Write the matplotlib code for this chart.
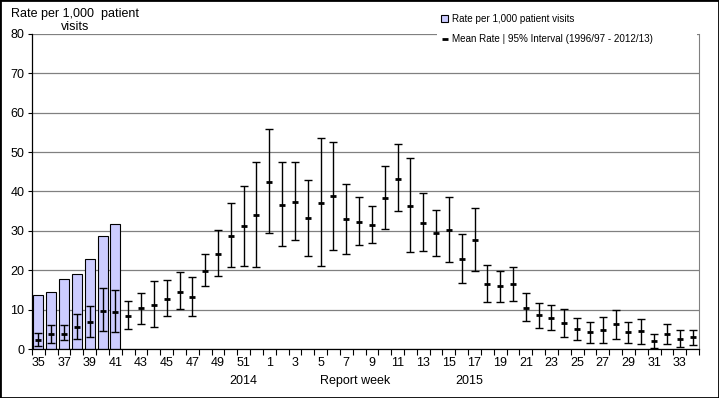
import numpy as np
import matplotlib
matplotlib.use("Agg")
import matplotlib.pyplot as plt
from matplotlib.patches import Patch, Rectangle
from matplotlib.lines import Line2D
from matplotlib.transforms import blended_transform_factory

plt.rcParams['font.family'] = ['Liberation Sans', 'DejaVu Sans']

weeks = list(range(35, 53)) + list(range(1, 35))

rate = [13.7, 14.4, 17.7, 19.0, 22.8, 28.6, 31.7]  # weeks 35-41

mean_rate = [2.3, 3.9, 3.8, 5.7, 6.9, 9.7, 9.5, 8.5, 10.3, 11.3, 12.8, 14.6, 13.1,
             19.9, 24.2, 28.8, 31.2, 34.0,
             42.4, 36.6, 37.4, 33.3, 37.1, 38.8, 33.0, 32.3, 31.5, 38.4, 43.2, 36.3,
             32.0, 29.5, 30.2, 22.9, 27.7, 16.5, 16.0, 16.5, 10.3, 8.6, 7.8, 6.6,
             5.0, 4.3, 4.8, 6.3, 4.3, 4.5, 2.0, 3.8, 2.5, 3.0]

low_95 = [0.8, 1.6, 2.3, 2.5, 3.1, 4.5, 4.2, 5.0, 6.3, 5.5, 8.3, 10.1, 8.3,
          15.9, 18.5, 20.8, 21.2, 20.7,
          29.4, 26.1, 27.8, 23.7, 21.0, 25.2, 24.2, 26.3, 26.8, 30.6, 35.0, 24.7,
          25.0, 23.5, 22.2, 16.8, 19.9, 12.0, 12.0, 12.3, 7.0, 5.4, 4.7, 3.1,
          2.3, 1.6, 1.6, 2.6, 1.6, 1.3, 0.3, 1.3, 0.6, 1.1]

high_95 = [4.0, 6.0, 6.0, 8.8, 10.8, 15.4, 14.9, 12.1, 14.2, 17.2, 17.5, 19.5, 18.2,
           24.1, 30.2, 37.0, 41.3, 47.6,
           55.8, 47.6, 47.4, 43.0, 53.5, 52.5, 41.8, 38.5, 36.2, 46.4, 52.0, 48.4,
           39.5, 35.4, 38.7, 29.1, 35.9, 21.4, 19.9, 20.9, 14.3, 11.8, 11.2, 10.2,
           7.9, 6.9, 8.2, 9.9, 6.9, 7.7, 3.9, 6.4, 4.9, 4.9]

yticks = [0, 10, 20, 30, 40, 50, 60, 70, 80]

W, H = 719, 398
fig = plt.figure(figsize=(W / 100, H / 100), dpi=100)
ax = fig.add_axes([32 / W, (H - 349) / H, (699 - 32) / W, (349 - 34) / H])

x = np.arange(len(weeks))
mean_arr = np.array(mean_rate)
err = np.vstack([mean_arr - np.array(low_95), np.array(high_95) - mean_arr])

ax.bar(x[:len(rate)], rate, width=0.78, color='#ccccff', edgecolor='black',
       linewidth=0.8, zorder=2)
ax.errorbar(x, mean_arr, yerr=err, fmt='none', ecolor='black', elinewidth=1.0,
            capsize=2.9, capthick=1.0, zorder=3)
ax.plot(x, mean_arr, linestyle='none', marker='_', markersize=4.5,
        markeredgewidth=2.0, color='black', zorder=4)

ax.set_xlim(-0.5, len(weeks) - 0.5)
ax.set_ylim(0, 80)
ax.set_yticks(yticks)
ax.yaxis.grid(True, color='#808080', linewidth=0.9, zorder=0)
ax.set_axisbelow(True)

# x ticks: marks at category boundaries, labels at every other week
ax.set_xticks(np.arange(-0.5, len(weeks), 1.0))
ax.set_xticklabels([])
lab_idx = x[::2]
ax.set_xticks(lab_idx, minor=True)
ax.set_xticklabels([str(weeks[i]) for i in lab_idx], minor=True)
ax.tick_params(axis='x', which='major', length=4, width=0.8, direction='out')
ax.tick_params(axis='x', which='minor', length=0, pad=6, labelsize=9)
ax.tick_params(axis='y', length=3, width=0.8, direction='out', pad=2.5, labelsize=9)

ax.spines['top'].set_visible(False)
ax.spines['right'].set_color('#808080')
ax.spines['left'].set_linewidth(0.9)
ax.spines['bottom'].set_linewidth(0.9)

tr = blended_transform_factory(ax.transData, ax.transAxes)
yrow = (349 - 381) / (349 - 34)
ax.text(15.95, yrow, '2014', transform=tr, ha='center', va='center', fontsize=9)
ax.text(24.7, yrow, 'Report week', transform=tr, ha='center', va='center', fontsize=9)
ax.text(33.6, yrow, '2015', transform=tr, ha='center', va='center', fontsize=9)

fig.text(75 / W, 1 - 14 / H, 'Rate per 1,000  patient', ha='center',
         va='center', fontsize=9)
fig.text(75 / W, 1 - 27 / H, 'visits', ha='center', va='center', fontsize=9)

# white box behind legend covering the top gridline
ax.add_patch(Rectangle((437 / W, 1 - 50 / H), (697 - 437) / W, 40 / H,
                       transform=fig.transFigure, facecolor='white',
                       edgecolor='none', zorder=4, clip_on=False))

handles = [Patch(facecolor='#ccccff', edgecolor='black', linewidth=0.8),
           Line2D([], [], color='black', marker='_', linestyle='none',
                  markersize=4, markeredgewidth=2)]
labels = ['Rate per 1,000 patient visits',
          'Mean Rate | 95% Interval (1996/97 - 2012/13)']
leg = fig.legend(handles, labels, loc='upper left',
                 bbox_to_anchor=(441 / W, 1 - 14 / H), frameon=False,
                 fontsize=7.1, handlelength=0.75, handleheight=0.75,
                 handletextpad=0.35, labelspacing=1.05, borderpad=0,
                 borderaxespad=0)
leg.set_zorder(6)

fig.add_artist(Rectangle((0, 0), 1, 1, transform=fig.transFigure, fill=False,
                         edgecolor='black', linewidth=2))

fig.savefig('out.png', dpi=100)
